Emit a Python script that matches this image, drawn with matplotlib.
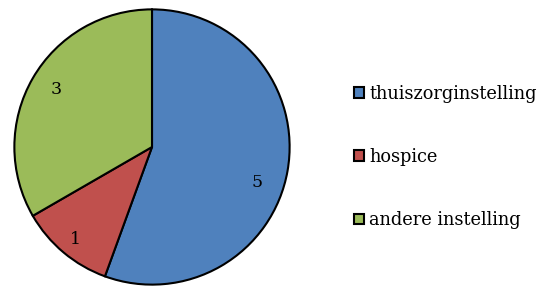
import matplotlib
matplotlib.use('Agg')
import matplotlib.pyplot as plt
from matplotlib.patches import Patch

categories = ['thuiszorginstelling', 'hospice', 'andere instelling']
values = [5, 1, 3]
colors = ['#4F81BD', '#C0504D', '#9BBB59']

plt.rcParams['font.family'] = ['DejaVu Serif']

fig = plt.figure(figsize=(5.41, 2.86), dpi=100)
# pie centred at about (152, 147) px with radius about 139 px
cx, cy, r = 152, 147, 139
W, H = 541, 286
ax = fig.add_axes([(cx - r) / W, (H - cy - r) / H, 2 * r / W, 2 * r / H])

wedges, texts = ax.pie(values, colors=colors, startangle=90, counterclock=False,
                       labels=[str(v) for v in values], labeldistance=0.8,
                       wedgeprops=dict(edgecolor='black', linewidth=1.5),
                       textprops=dict(fontsize=12.5, color='black'))
# Excel-like label placement
label_pos = [(0.763, -0.259), (-0.554, -0.669), (-0.698, 0.417)]
for t, p in zip(texts, label_pos):
    t.set_position(p)
    t.set_ha('center')
    t.set_va('center')
ax.set_xlim(-1.01, 1.01)
ax.set_ylim(-1.01, 1.01)
ax.set_aspect('equal')

handles = [Patch(facecolor=c, edgecolor='black', linewidth=1.5) for c in colors]
fig.legend(handles, categories, loc='center left', bbox_to_anchor=(354 / W, 1 - 157 / H),
           frameon=False, fontsize=12.8, labelspacing=2.55, handlelength=0.55,
           handleheight=0.55, handletextpad=0.3, borderaxespad=0, borderpad=0)

fig.savefig('out.png', dpi=100)
